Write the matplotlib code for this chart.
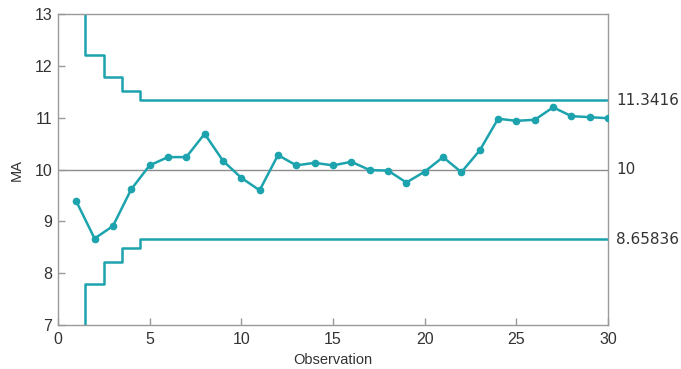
import numpy as np
import matplotlib.pyplot as plt

# moving average per observation
obs = np.arange(1, 31)
ma = [9.39, 8.67, 8.91, 9.62, 10.08, 10.24, 10.24, 10.69, 10.17, 9.84,
      9.60, 10.28, 10.08, 10.13, 10.08, 10.15, 9.99, 9.98, 9.75, 9.96,
      10.24, 9.95, 10.37, 10.98, 10.94, 10.96, 11.20, 11.03, 11.01, 10.99]

# control limits (wider for the first few observations)
center = 10
ucl_final = 11.3416
lcl_final = 8.65836
ucl_start = [13.0, 12.21, 11.78, 11.52]
lcl_start = [7.0, 7.79, 8.22, 8.48]
ucl = np.array(ucl_start + [ucl_final] * (len(obs) - len(ucl_start)))
lcl = np.array(lcl_start + [lcl_final] * (len(obs) - len(lcl_start)))

teal = '#1ca3ad'
gray = '#9a9a9a'
txt = '#333333'

plt.rcParams['font.family'] = ['Liberation Sans', 'DejaVu Sans']

fig = plt.figure(figsize=(6.81, 3.69), dpi=100)
ax = fig.add_axes([0.085, 0.119, 0.808, 0.843])

ax.axhline(center, color='#8c8c8c', lw=1.0, zorder=1)

# limits change halfway between observations; first step starts at 1.5
edges = np.r_[obs[1:] - 0.5, obs[-1]]
for lim in (ucl, lcl):
    xs = np.r_[edges[0], edges]
    ys = np.r_[lim[0], lim[1:], lim[-1]]
    ax.step(xs, ys, where='post', color=teal, lw=1.8, zorder=2)

ax.plot(obs, ma, color=teal, lw=1.8, marker='o', ms=4.5, zorder=3)

ax.set_xlim(0, 30)
ax.set_ylim(7, 13)
ax.set_xticks(range(0, 31, 5))
ax.set_yticks(range(7, 14))
ax.tick_params(direction='in', length=5, width=1, color=gray,
               labelsize=11.5, labelcolor=txt, pad=4)
ax.tick_params(axis='x', pad=5)
for s in ax.spines.values():
    s.set_color(gray)
    s.set_linewidth(1.0)

ax.set_xlabel('Observation', fontsize=10.5, color=txt, labelpad=4)
ax.set_ylabel('MA', fontsize=10.5, color=txt, labelpad=8)

# limit values written beside the right edge
tr = ax.get_yaxis_transform()
for val, lab in [(ucl_final, '11.3416'), (center, '10'), (lcl_final, '8.65836')]:
    ax.text(1.015, val, lab, transform=tr, va='center', ha='left',
            fontsize=11, color=txt, family='DejaVu Sans')

plt.savefig('out.png', dpi=100)
